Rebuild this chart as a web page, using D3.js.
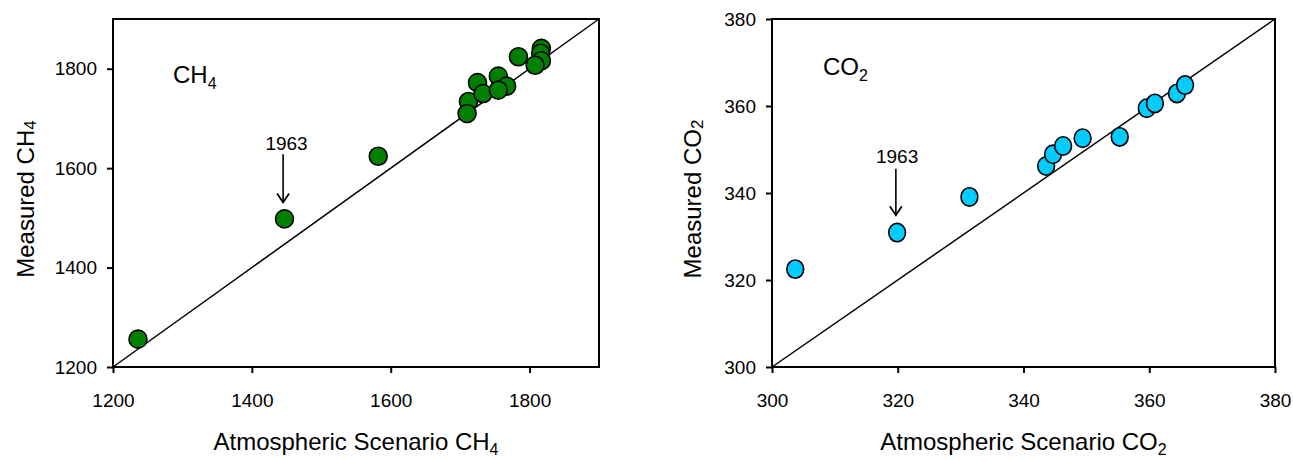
<!DOCTYPE html>
<html>
<head>
<meta charset="utf-8">
<script src="https://cdn.jsdelivr.net/npm/d3@7"></script>
<style>
  body { margin: 0; background: #fff; }
  svg { display: block; font-family: "Liberation Sans", Arial, sans-serif; }
</style>
</head>
<body>
<div id="chart"></div>
<script>
// values
const ch4Scenario = [1236, 1447, 1582, 1712, 1710, 1725, 1733, 1755, 1767, 1755, 1784, 1817, 1816, 1817, 1808];
const ch4Measured = [1256, 1498, 1624, 1734, 1710, 1772, 1750, 1785, 1765, 1757, 1824, 1841, 1831, 1816, 1807];

const co2Scenario = [303.7, 319.9, 331.4, 343.6, 344.7, 346.3, 349.4, 355.3, 359.6, 360.9, 364.4, 365.7];
const co2Measured = [322.5, 330.9, 339.1, 346.2, 348.9, 350.8, 352.6, 352.9, 359.5, 360.6, 362.9, 364.8];

const ch4Ticks = [1200, 1400, 1600, 1800];
const co2Ticks = [300, 320, 340, 360, 380];

const W = 1293, H = 461;

const svg = d3.select('#chart').append('svg')
  .attr('width', W)
  .attr('height', H);

// one panel = box, 1:1 line, points, axes, labels
function draw_panel(cfg){
  const x = d3.scaleLinear().domain(cfg.domain).range([cfg.left, cfg.right]);
  const y = d3.scaleLinear().domain(cfg.domain).range([cfg.bottom, cfg.top]);

  const g = svg.append('g');

  // 1:1 line
  g.append('line')
    .attr('x1', x(cfg.domain[0])).attr('y1', y(cfg.domain[0]))
    .attr('x2', x(cfg.domain[1])).attr('y2', y(cfg.domain[1]))
    .attr('stroke', '#000').attr('stroke-width', 1.5);

  // points
  const pts = d3.zip(cfg.xs, cfg.ys);
  g.selectAll('ellipse.pt')
    .data(pts)
    .enter()
    .append('ellipse')
    .attr('class', 'pt')
    .attr('cx', d => x(d[0]))
    .attr('cy', d => y(d[1]))
    .attr('rx', cfg.rx)
    .attr('ry', cfg.ry)
    .attr('fill', cfg.color)
    .attr('stroke', '#000')
    .attr('stroke-width', 1.6);

  // axes
  const fmt = d3.format('d');
  const xAxis = d3.axisBottom(x).tickValues(cfg.ticks).tickFormat(fmt).tickSize(6).tickSizeOuter(0).tickPadding(21);
  const yAxis = d3.axisLeft(y).tickValues(cfg.ticks).tickFormat(fmt).tickSize(6).tickSizeOuter(0).tickPadding(10);

  const gx = g.append('g').attr('transform', `translate(0,${cfg.bottom})`).call(xAxis);
  const gy = g.append('g').attr('transform', `translate(${cfg.left},0)`).call(yAxis);
  [gx, gy].forEach(a => {
    a.select('.domain').remove();
    a.selectAll('.tick line').attr('stroke', '#000').attr('stroke-width', 2);
    a.selectAll('.tick text')
      .attr('fill', '#000')
      .style('font-size', '19px')
      .style('font-family', '"Liberation Sans", Arial, sans-serif');
  });

  // frame
  g.append('rect')
    .attr('x', cfg.left).attr('y', cfg.top)
    .attr('width', cfg.right - cfg.left)
    .attr('height', cfg.bottom - cfg.top)
    .attr('fill', 'none')
    .attr('stroke', '#000')
    .attr('stroke-width', 2);

  // label with subscript
  const sub_text = function(sel, main, sub){
    sel.append('tspan').text(main);
    sel.append('tspan').attr('dy', 6).style('font-size', '16px').text(sub);
  };

  // x title
  g.append('text')
    .attr('x', (cfg.left + cfg.right) / 2)
    .attr('y', 450)
    .attr('text-anchor', 'middle')
    .style('font-size', '24px')
    .call(sel => {
      sel.append('tspan').text('Atmospheric Scenario ' + cfg.gas);
      sel.append('tspan').attr('dy', 5).style('font-size', '16px').text(cfg.sub);
    });

  // y title
  g.append('text')
    .attr('transform', `translate(${cfg.ylabX},${(cfg.top + cfg.bottom) / 2 + 6}) rotate(-90)`)
    .attr('text-anchor', 'middle')
    .style('font-size', '24px')
    .call(sel => {
      sel.append('tspan').text('Measured ' + cfg.gas);
      sel.append('tspan').attr('dy', 2).style('font-size', '17px').text(cfg.sub);
    });

  // gas name inside the panel
  g.append('text')
    .attr('x', cfg.left + cfg.nameDx)
    .attr('y', cfg.top + cfg.nameDy)
    .style('font-size', '24px')
    .call(sub_text, cfg.gas, cfg.sub);

  // 1963 annotation
  const a = cfg.note;
  g.append('text')
    .attr('x', x(a.tx)).attr('y', y(a.ty))
    .attr('text-anchor', 'middle')
    .style('font-size', '19px')
    .text('1963');
  const ax = x(a.ax), ay0 = y(a.y0), ay1 = y(a.y1);
  g.append('line')
    .attr('x1', ax).attr('y1', ay0)
    .attr('x2', ax).attr('y2', ay1)
    .attr('stroke', '#000').attr('stroke-width', 1.6);
  g.append('path')
    .attr('d', `M${ax - 6},${ay1 - 9}L${ax},${ay1}L${ax + 6},${ay1 - 9}`)
    .attr('fill', 'none')
    .attr('stroke', '#000')
    .attr('stroke-width', 1.8);
}

draw_panel({
  left: 113, right: 599, top: 19, bottom: 367,
  domain: [1200, 1900],
  ticks: ch4Ticks,
  xs: ch4Scenario, ys: ch4Measured,
  color: '#008000', rx: 9, ry: 9,
  gas: 'CH', sub: '4',
  ylabX: 34,
  nameDx: 60, nameDy: 64,
  note: {tx: 1450, ty: 1636, ax: 1445, y0: 1628, y1: 1531}
});

draw_panel({
  left: 772, right: 1275, top: 19, bottom: 367,
  domain: [300, 380],
  ticks: co2Ticks,
  xs: co2Scenario, ys: co2Measured,
  color: '#00CCFF', rx: 8.4, ry: 9.2,
  gas: 'CO', sub: '2',
  ylabX: 701,
  nameDx: 51, nameDy: 56,
  note: {tx: 319.9, ty: 346.8, ax: 319.7, y0: 345.6, y1: 334.9}
});
</script>
</body>
</html>
